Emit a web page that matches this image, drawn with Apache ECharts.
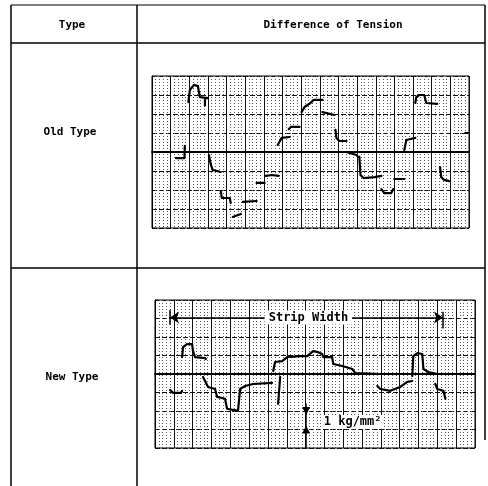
<!DOCTYPE html>
<html>
<head>
<meta charset="utf-8">
<script src="https://cdn.jsdelivr.net/npm/echarts@6/dist/echarts.min.js"></script>
<style>
html,body{margin:0;padding:0;background:#fff;}
#c{width:488px;height:486px;}
</style>
</head>
<body>
<div id="c"></div>
<script>
// Table texts
const headerLabels = ['Type', 'Difference of Tension'];
const rowLabels = ['Old Type', 'New Type'];
const stripLabel = 'Strip Width';
const scaleLabel = '1 kg/mm²';

// Axis settings (divisions along strip width, tension in kg/mm²)
const xTicks = {min: 0, max: 17, interval: 1};
const yTicks = {min: -4, max: 4, interval: 1};

// Old type trace (x: chart division, y: kg/mm²); '-' breaks the trace
const oldX = [1.28,1.74,1.76,'-',
  1.95,2.03,2.25,2.46,2.57,3.0,'-',
  2.84,2.84,'-',
  3.05,3.16,3.26,3.69,'-',
  3.69,3.74,4.17,4.22,'-',
  4.33,4.76,'-',
  4.87,5.61,'-',
  5.61,6.04,'-',
  6.1,6.42,6.79,'-',
  6.74,6.95,7.38,'-',
  7.33,7.45,7.91,'-',
  8.02,8.18,8.5,8.66,9.14,'-',
  9.14,9.79,'-',
  9.84,9.89,10.05,10.43,'-',
  10.43,10.96,11.06,'-',
  11.12,11.18,11.34,11.93,12.3,'-',
  12.3,12.46,12.83,12.94,'-',
  12.99,13.53,'-',
  13.53,13.64,14.12,'-',
  14.12,14.17,14.33,14.6,14.71,15.29,'-',
  15.45,15.51,15.67,15.94,'-',
  16.8,16.95];
const oldY = [-0.32,-0.32,0.32,'-',
  2.63,3.26,3.53,3.47,2.89,2.84,'-',
  2.84,2.45,'-',
  -0.16,-0.68,-0.95,-1.05,'-',
  -2.05,-2.42,-2.42,-2.68,'-',
  -3.42,-3.26,'-',
  -2.63,-2.58,'-',
  -1.63,-1.63,'-',
  -1.26,-1.21,-1.26,'-',
  0.37,0.74,0.79,'-',
  1.2,1.32,1.32,'-',
  2.1,2.37,2.58,2.74,2.74,'-',
  2.1,1.95,'-',
  1.16,0.74,0.58,0.58,'-',
  0,-0.16,-0.26,'-',
  -0.26,-1.21,-1.37,-1.32,-1.26,'-',
  -1.95,-2.16,-2.16,-1.95,'-',
  -1.42,-1.42,'-',
  0.1,0.63,0.74,'-',
  2.58,2.89,3.0,3.0,2.58,2.53,'-',
  -0.79,-1.32,-1.47,-1.53,'-',
  1.0,1.0];

// New type trace
const newX = [0.8,0.96,1.38,1.44,'-',
  1.44,1.49,1.7,1.97,2.02,2.13,2.66,2.7,'-',
  2.55,2.82,3.19,3.3,3.72,3.83,4.41,4.52,4.79,5.21,6.22,'-',
  6.54,6.65,'-',
  6.28,6.38,6.76,7.02,7.71,8.09,8.4,8.67,8.88,8.94,9.41,9.47,9.95,10.48,10.64,11.97,'-',
  11.81,11.97,12.5,13.03,13.4,13.67,'-',
  13.67,13.72,13.94,14.2,14.26,14.52,15.0,'-',
  14.89,15.0,15.32,15.43];
const newY = [-0.86,-1.02,-1.02,-0.91,'-',
  0.91,1.45,1.61,1.61,1.24,0.91,0.86,0.81,'-',
  -0.16,-0.7,-0.81,-1.24,-1.34,-1.88,-1.99,-0.81,-0.65,-0.54,-0.48,'-',
  -1.61,-0.16,'-',
  0.16,0.65,0.7,0.91,0.97,0.97,1.24,1.18,1.08,0.91,0.91,0.54,0.43,0.27,0.05,0.0,'-',
  -0.65,-0.81,-0.91,-0.7,-0.43,-0.38,'-',
  -0.11,0.97,1.13,1.08,0.27,0.11,0,'-',
  -0.54,-0.81,-0.91,-1.34];

// Annotation values (chart coordinates)
const stripSpan = [0.8, 15.3];
const stripLevel = 3.06;
const stripTextX = 8.15;
const scaleX = 8.03;
const scaleRange = [-2, -3];
const scaleLineEnds = [-1.6, -4];
const scaleTextPos = [10.5, -2.6];

const FONT = 'DejaVu Sans Mono';

function pairs(xs, ys) {
  return xs.map((x, i) => (x === '-' ? ['-', '-'] : [x, ys[i]]));
}

function xAxisCfg(gi) {
  return {
    type: 'value', gridIndex: gi, min: xTicks.min, max: xTicks.max, interval: xTicks.interval,
    axisLine: {show: true, onZero: true, lineStyle: {color: '#000', width: 2}},
    axisTick: {show: false}, axisLabel: {show: false},
    splitLine: {show: true, lineStyle: {color: '#111', width: 1}},
    minorTick: {show: false, splitNumber: 5},
    minorSplitLine: {show: true, lineStyle: {color: '#555', width: 1, type: [1, 2]}}
  };
}
function yAxisCfg(gi) {
  return {
    type: 'value', gridIndex: gi, min: yTicks.min, max: yTicks.max, interval: yTicks.interval,
    axisLine: {show: true, lineStyle: {color: '#000', width: 1}},
    axisTick: {show: false}, axisLabel: {show: false},
    splitLine: {show: true, lineStyle: {color: '#111', width: 1, type: [5, 2]}}
  };
}

const chart = echarts.init(document.getElementById('c'), null, {renderer: 'canvas'});

const tableGraphic = [
  {type: 'line', shape: {x1: 11, y1: 5, x2: 485, y2: 5}, style: {stroke: '#000', lineWidth: 1}},
  {type: 'line', shape: {x1: 11, y1: 43, x2: 485, y2: 43}, style: {stroke: '#000', lineWidth: 1.5}},
  {type: 'line', shape: {x1: 11, y1: 268, x2: 485, y2: 268}, style: {stroke: '#000', lineWidth: 1.5}},
  {type: 'line', shape: {x1: 11, y1: 5, x2: 11, y2: 486}, style: {stroke: '#000', lineWidth: 1.5}},
  {type: 'line', shape: {x1: 137, y1: 5, x2: 137, y2: 486}, style: {stroke: '#000', lineWidth: 1.5}},
  {type: 'line', shape: {x1: 485, y1: 5, x2: 485, y2: 440}, style: {stroke: '#000', lineWidth: 1.5}},
  {type: 'text', x: 72, y: 25, style: {text: headerLabels[0], font: 'bold 11px ' + FONT, fill: '#000', textAlign: 'center', textVerticalAlign: 'middle'}},
  {type: 'text', x: 333, y: 25, style: {text: headerLabels[1], font: 'bold 11px ' + FONT, fill: '#000', textAlign: 'center', textVerticalAlign: 'middle'}},
  {type: 'text', x: 70, y: 132, style: {text: rowLabels[0], font: 'bold 11px ' + FONT, fill: '#000', textAlign: 'center', textVerticalAlign: 'middle'}},
  {type: 'text', x: 72, y: 377, style: {text: rowLabels[1], font: 'bold 11px ' + FONT, fill: '#000', textAlign: 'center', textVerticalAlign: 'middle'}}
];

const option = {
  animation: false,
  backgroundColor: '#fff',
  graphic: tableGraphic,
  grid: [
    {left: 152, top: 76, width: 317, height: 152, show: true, borderColor: '#000', borderWidth: 1, backgroundColor: 'transparent'},
    {left: 155, top: 300, width: 320, height: 148, show: true, borderColor: '#000', borderWidth: 1, backgroundColor: 'transparent'}
  ],
  xAxis: [xAxisCfg(0), xAxisCfg(1)],
  yAxis: [yAxisCfg(0), yAxisCfg(1)],
  series: [
    {
      type: 'line', xAxisIndex: 0, yAxisIndex: 0, data: pairs(oldX, oldY),
      showSymbol: false, connectNulls: false, z: 5,
      lineStyle: {color: '#000', width: 2.2, join: 'round', cap: 'round'}
    },
    {
      type: 'line', xAxisIndex: 1, yAxisIndex: 1, data: pairs(newX, newY),
      showSymbol: false, connectNulls: false, z: 5,
      lineStyle: {color: '#000', width: 2.2, join: 'round', cap: 'round'},
      markLine: {
        silent: true, animation: false,
        lineStyle: {color: '#000', width: 1.5, type: 'solid'},
        label: {show: false},
        symbolSize: 9,
        data: [
          [{coord: [stripSpan[0], stripLevel], symbol: 'arrow'}, {coord: [stripSpan[1], stripLevel], symbol: 'arrow'}],
          [{coord: [stripSpan[0], stripLevel + 0.4], symbol: 'none'}, {coord: [stripSpan[0], stripLevel - 0.4], symbol: 'none'}],
          [{coord: [stripSpan[1], stripLevel + 0.3], symbol: 'none'}, {coord: [stripSpan[1], stripLevel - 0.6], symbol: 'none'}],
          [{coord: [scaleX, scaleLineEnds[0]], symbol: 'none'}, {coord: [scaleX, scaleRange[0]], symbol: 'triangle', symbolSize: 8, symbolRotate: 180}],
          [{coord: [scaleX, scaleRange[0]], symbol: 'none'}, {coord: [scaleX, scaleRange[1]], symbol: 'none'}],
          [{coord: [scaleX, scaleLineEnds[1]], symbol: 'none'}, {coord: [scaleX, scaleRange[1]], symbol: 'triangle', symbolSize: 8, symbolRotate: 0}]
        ]
      },
      markPoint: {
        silent: true, animation: false,
        symbol: 'rect', symbolSize: 0,
        data: [
          {coord: [stripTextX, stripLevel],
           label: {show: true, position: 'inside', formatter: stripLabel, color: '#000', fontFamily: FONT, fontWeight: 'bold', fontSize: 12, backgroundColor: '#fff', padding: [1, 4]}},
          {coord: scaleTextPos,
           label: {show: true, position: 'inside', formatter: scaleLabel, color: '#000', fontFamily: FONT, fontWeight: 'bold', fontSize: 12, backgroundColor: '#fff', padding: [1, 2]}}
        ]
      }
    }
  ]
};
chart.setOption(option);
</script>
</body>
</html>
